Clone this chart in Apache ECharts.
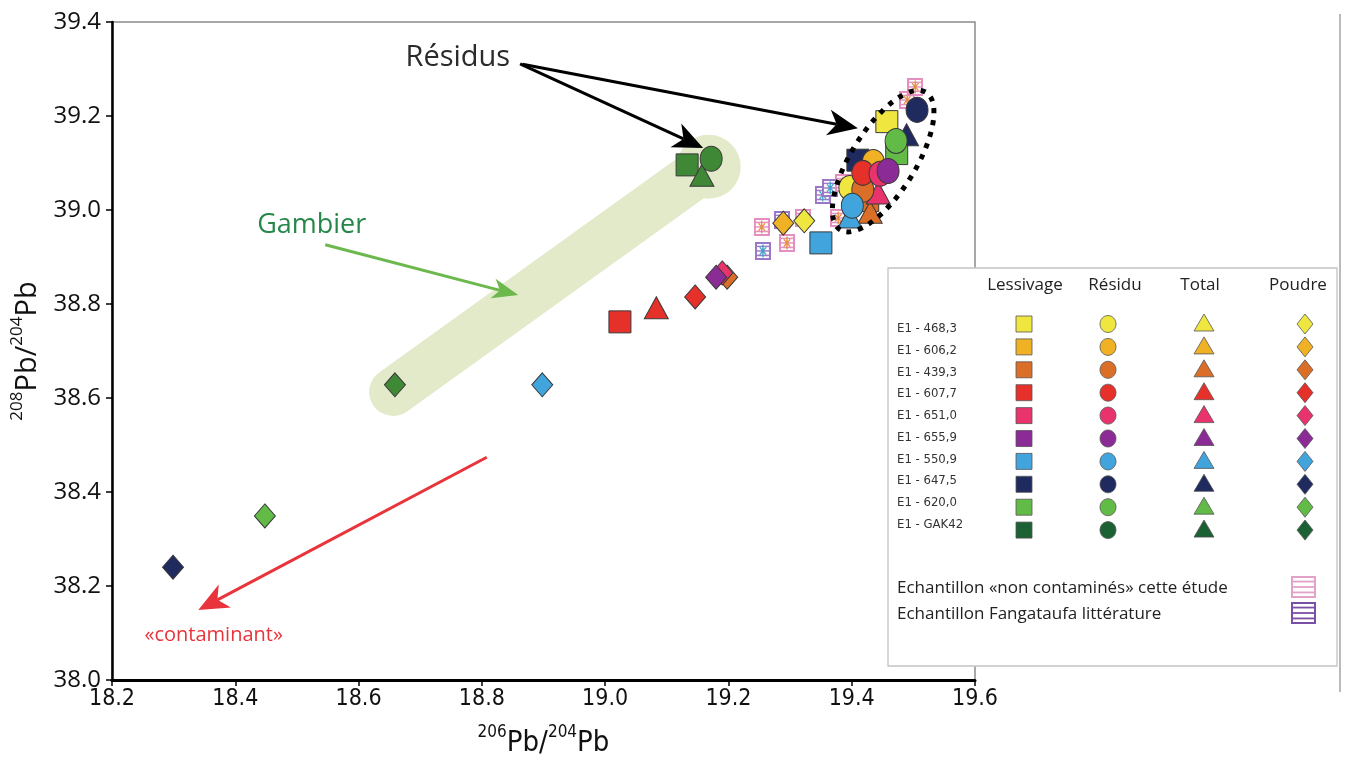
<!DOCTYPE html>
<html><head><meta charset="utf-8">
<script src="https://cdn.jsdelivr.net/npm/echarts@6/dist/echarts.min.js"></script>
<style>html,body{margin:0;padding:0;background:#fff}#c{width:1348px;height:764px}</style>
</head><body><div id="c"></div>
<script>
// ---------------- DATA ----------------
const samples = ['E1 - 468,3','E1 - 606,2','E1 - 439,3','E1 - 607,7','E1 - 651,0','E1 - 655,9','E1 - 550,9','E1 - 647,5','E1 - 620,0','E1 - GAK42'];
const methods = ['Lessivage','Résidu','Total','Poudre'];
// points: [206Pb/204Pb, 208Pb/204Pb, sample index]
const lessivage = [[19.457,39.188,0],[19.426,39.020,2],[19.024,38.762,3],[19.350,38.930,6],[19.410,39.106,7],[19.473,39.120,8],[19.133,39.096,9]];
const residu = [[19.397,39.047,0],[19.435,39.102,1],[19.418,39.043,2],[19.418,39.079,3],[19.446,39.077,4],[19.459,39.083,5],[19.401,39.009,6],[19.506,39.213,7],[19.472,39.147,8],[19.172,39.109,9]];
const total = [[19.430,38.995,2],[19.083,38.792,3],[19.443,39.036,4],[19.397,38.985,6],[19.489,39.160,7],[19.157,39.074,9]];
const poudre = [[19.323,38.977,0],[19.289,38.972,1],[19.198,38.857,2],[19.146,38.815,3],[19.190,38.866,4],[19.180,38.857,5],[18.898,38.628,6],[18.299,38.240,7],[18.448,38.349,8],[18.659,38.628,9]];
const nonContamines = [[19.254,38.964],[19.295,38.930],[19.321,38.983],[19.378,38.983],[19.386,39.057],[19.490,39.234],[19.503,39.262]];
const fangataufa = [[19.256,38.913],[19.287,38.979],[19.353,39.032],[19.365,39.047]];
const xTickLabels = ['18.2','18.4','18.6','18.8','19.0','19.2','19.4','19.6'];
const yTickLabels = ['38.0','38.2','38.4','38.6','38.8','39.0','39.2','39.4'];

// ---------------- STYLE ----------------
const sampleColors = ['#efe73f','#f0b224','#dc6f28','#e6302a','#e8336d','#8b2b95','#41a4dc','#1f2a5f','#62bb47','#3f8936'];
const legendColors = sampleColors.slice(0,9).concat(['#1b6133']);
const FONT = '"Open Sans","Noto Sans",sans-serif';
const NARROW = '"Liberation Sans Narrow","DejaVu Sans Condensed",sans-serif';

function hatchImg(border, inner, w, h, plot){
  const c = document.createElement('canvas'); c.width=w*3; c.height=h*3;
  const g = c.getContext('2d'); g.scale(3,3);
  g.fillStyle = '#fff'; g.fillRect(0,0,w,h);
  g.strokeStyle = border; g.lineWidth = plot ? 2 : 2;
  g.strokeRect(1,1,w-2,h-2);
  g.lineWidth = plot ? 1.5 : 1.8;
  for (let i=1;i<4;i++){ g.beginPath(); g.moveTo(1,h*i/4); g.lineTo(w-1,h*i/4); g.stroke(); }
  if (plot){
    g.strokeStyle = inner; g.lineWidth = 1.2;
    g.beginPath(); g.moveTo(w/2,2.5); g.lineTo(w/2,h-2.5);
    g.moveTo(w*0.3,h*0.3); g.lineTo(w*0.7,h*0.7); g.moveTo(w*0.7,h*0.3); g.lineTo(w*0.3,h*0.7);
    g.stroke();
  }
  return 'image://' + c.toDataURL();
}
const pinkHatch = hatchImg('#e58fc0','#e98c3c',16,18,true);
const purpleHatch = hatchImg('#9a78c8','#3aa3c9',16,18,true);
const pinkHatchLeg = hatchImg('#e3a2c8','#e3a2c8',25,22,false);
const purpleHatchLeg = hatchImg('#7b4fa6','#7b4fa6',25,22,false);

function pts(arr){ return arr.map(p => ({value:[p[0],p[1]], itemStyle:{color: sampleColors[p[2]]}})); }
const edge = {borderColor:'#3a3a3a', borderWidth:1, opacity:1};

const chart = echarts.init(document.getElementById('c'), null, {renderer:'canvas'});
const option = {
  animation:false,
  backgroundColor:'#fff',
  grid:{left:112, right:373, top:22, bottom:84, show:true, borderColor:'#8c8c8c', borderWidth:1.5, containLabel:false},
  xAxis:{type:'value', min:18.2, max:19.6, interval:0.2,
    name:'{s|206}{b|Pb/}{s|204}{b|Pb}', nameLocation:'middle', nameGap:44,
    nameTextStyle:{rich:{b:{fontSize:29,fontFamily:NARROW,color:'#111',lineHeight:34,verticalAlign:'bottom'},s:{fontSize:17,fontFamily:NARROW,color:'#111',lineHeight:18,verticalAlign:'top'}}},
    axisLine:{show:true,onZero:false,lineStyle:{color:'#000',width:3}},
    axisTick:{show:true,inside:false,length:6,lineStyle:{color:'#000',width:1.5}},
    axisLabel:{fontFamily:NARROW,fontSize:23,color:'#111',margin:8,formatter:(v)=>xTickLabels[Math.round((v-18.2)/0.2)]},
    splitLine:{show:false}},
  yAxis:{type:'value', min:38.0, max:39.4, interval:0.2,
    name:'{s|208}{b|Pb/}{s|204}{b|Pb}', nameLocation:'middle', nameGap:62, nameRotate:90,
    nameTextStyle:{rich:{b:{fontSize:29,fontFamily:FONT,color:'#111',lineHeight:34,verticalAlign:'bottom'},s:{fontSize:17,fontFamily:FONT,color:'#111',lineHeight:18,verticalAlign:'top'}}},
    axisLine:{show:true,onZero:false,lineStyle:{color:'#000',width:2.5}},
    axisTick:{show:true,inside:false,length:6,lineStyle:{color:'#000',width:1.5}},
    axisLabel:{fontFamily:FONT,fontSize:24,color:'#111',margin:11,formatter:(v)=>yTickLabels[Math.round((v-38.0)/0.2)]},
    splitLine:{show:false}},
  series:[
    {name:'Echantillon Fangataufa littérature',type:'scatter',symbol:purpleHatch,symbolSize:[16,18],itemStyle:{opacity:1},data:fangataufa,z:2},
    {name:'Echantillon «non contaminés» cette étude',type:'scatter',symbol:pinkHatch,symbolSize:[16,18],itemStyle:{opacity:1},data:nonContamines,z:2},
    {name:'Lessivage',type:'scatter',symbol:'rect',symbolSize:22,itemStyle:edge,data:pts(lessivage),z:3},
    {name:'Total',type:'scatter',symbol:'triangle',symbolSize:[24,22],itemStyle:edge,data:pts(total),z:3},
    {name:'Résidu',type:'scatter',symbol:'circle',symbolSize:[22,25],itemStyle:edge,data:pts(residu),z:3},
    {name:'Poudre',type:'scatter',symbol:'diamond',symbolSize:[21,24],itemStyle:edge,data:pts(poudre),z:3}
  ]
};
chart.setOption(option);

// ---------------- ANNOTATIONS ----------------
const P = (x,y) => chart.convertToPixel({xAxisIndex:0,yAxisIndex:0},[x,y]);
function arrowEls(a,b,color,lw,L,W){
  const dx=b[0]-a[0], dy=b[1]-a[1], len=Math.hypot(dx,dy), ux=dx/len, uy=dy/len, nx=-uy, ny=ux;
  const base=[b[0]-ux*L,b[1]-uy*L], notch=[b[0]-ux*L*0.72,b[1]-uy*L*0.72];
  return [
    {type:'line',z:60,shape:{x1:a[0],y1:a[1],x2:notch[0],y2:notch[1]},style:{stroke:color,lineWidth:lw}},
    {type:'polygon',z:60,shape:{points:[b,[base[0]+nx*W/2,base[1]+ny*W/2],notch,[base[0]-nx*W/2,base[1]-ny*W/2]]},style:{fill:color}}
  ];
}
const g = [];
// Gambier band
const b1=P(18.656,38.613), b2=P(19.160,39.088), bc=P(19.168,39.092);
g.push({type:'polyline',z:1,shape:{points:[b1,b2]},style:{stroke:'#e3eaca',lineWidth:48,lineCap:'round',fill:null}});
g.push({type:'circle',z:1,shape:{cx:bc[0],cy:bc[1],r:32},style:{fill:'#e3eaca'}});
// dotted ellipse
const ec=P(19.451,39.104);
g.push({type:'ellipse',z:50,x:ec[0],y:ec[1],rotation:58*Math.PI/180,shape:{cx:0,cy:0,rx:81,ry:32},style:{fill:null,stroke:'#000',lineWidth:5,lineDash:[5,7]}});
// Résidus
const rt=P(18.761,39.323);
g.push({type:'text',z:60,style:{text:'Résidus',x:rt[0],y:rt[1],align:'center',verticalAlign:'middle',fill:'#2b2b2b',font:'29px '+FONT}});
g.push(...arrowEls(P(18.862,39.311),P(19.159,39.132),'#000',3,30,26));
g.push(...arrowEls(P(18.866,39.310),P(19.410,39.174),'#000',3,30,26));
// Gambier
const gt=P(18.524,38.968);
g.push({type:'text',z:60,style:{text:'Gambier',x:gt[0],y:gt[1],align:'center',verticalAlign:'middle',fill:'#27874b',font:'27px '+FONT}});
g.push(...arrowEls(P(18.546,38.926),P(18.859,38.819),'#6cb84c',3,26,20));
// contaminant
const ct=P(18.365,38.096);
g.push({type:'text',z:60,style:{text:'«contaminant»',x:ct[0],y:ct[1],align:'center',verticalAlign:'middle',fill:'#e8343a',font:'20px '+FONT}});
g.push(...arrowEls(P(18.808,38.474),P(18.340,38.149),'#e8343a',3,30,26));
// right frame line
g.push({type:'line',z:5,shape:{x1:1340,y1:14,x2:1340,y2:692},style:{stroke:'#777',lineWidth:1}});

// ---------------- LEGEND ----------------
const LZ=100;
g.push({type:'rect',z:LZ,shape:{x:888,y:268,width:449,height:398},style:{fill:'#fff',stroke:'#c4c4c4',lineWidth:1.3}});
const headX=[1025,1115,1200,1298], symX=[1024,1108,1204,1305];
methods.forEach((m,i)=>g.push({type:'text',z:LZ+1,style:{text:m,x:headX[i],y:285,align:'center',verticalAlign:'middle',fill:'#222',font:'17px '+FONT}}));
const sEdge={stroke:'#555',lineWidth:0.8};
samples.forEach((s,i)=>{
  const ly=329+21.7*i, sy=324+22.9*i, c=legendColors[i];
  g.push({type:'text',z:LZ+1,style:{text:s,x:897,y:ly,align:'left',verticalAlign:'middle',fill:'#333',font:'13px '+NARROW}});
  g.push({type:'rect',z:LZ+1,shape:{x:symX[0]-8,y:sy-8,width:16,height:16},style:Object.assign({fill:c},sEdge)});
  g.push({type:'ellipse',z:LZ+1,shape:{cx:symX[1],cy:sy,rx:8,ry:8.5},style:Object.assign({fill:c},sEdge)});
  g.push({type:'polygon',z:LZ+1,shape:{points:[[symX[2],sy-10],[symX[2]+10,sy+7],[symX[2]-10,sy+7]]},style:Object.assign({fill:c},sEdge)});
  g.push({type:'polygon',z:LZ+1,shape:{points:[[symX[3],sy-10],[symX[3]+8,sy],[symX[3],sy+10],[symX[3]-8,sy]]},style:Object.assign({fill:c},sEdge)});
});
const extra=[['Echantillon «non contaminés» cette étude',pinkHatchLeg,588],['Echantillon Fangataufa littérature',purpleHatchLeg,614]];
extra.forEach(e=>{
  g.push({type:'text',z:LZ+1,style:{text:e[0],x:897,y:e[2],align:'left',verticalAlign:'middle',fill:'#222',font:'17px '+FONT}});
  g.push({type:'image',z:LZ+1,style:{image:e[1].replace('image://',''),x:1291,y:e[2]-12,width:25,height:22}});
});
chart.setOption({graphic:g});
</script></body></html>
